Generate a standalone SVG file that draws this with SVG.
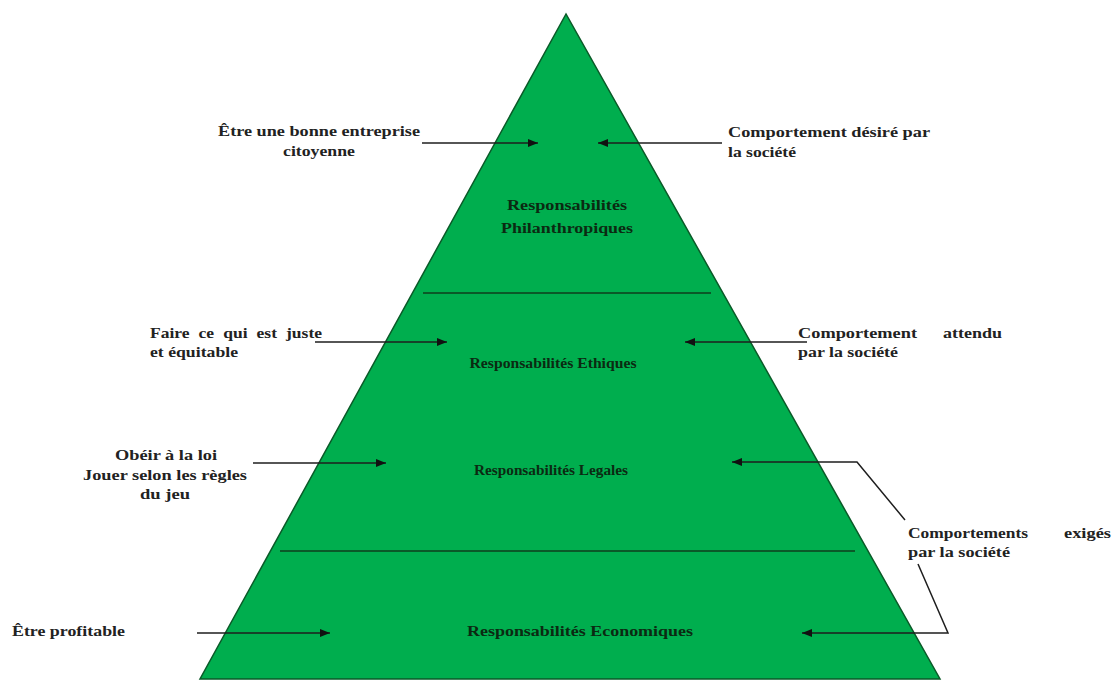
<svg xmlns="http://www.w3.org/2000/svg" width="1113" height="680" viewBox="0 0 1113 680">
<style>
.t{font-family:"Liberation Serif","Times New Roman",serif;font-weight:bold;font-size:15px;fill:#222}
.in{fill:#0b2a12}
.c{fill:none;stroke:#1e1e1e;stroke-width:1.5}
.div{stroke:#0a5a28;stroke-width:2}
</style>
<defs>
<marker id="ah" viewBox="0 0 10 8" refX="10" refY="4" markerWidth="10" markerHeight="8" markerUnits="userSpaceOnUse" orient="auto">
<path d="M0,0 L10,4 L0,8 z" fill="#111"/>
</marker>
</defs>
<rect width="1113" height="680" fill="#fff"/>
<g id="pyramid">
<polygon points="566,14 200,679 940,679" fill="#00AE4E" stroke="#0a5a28" stroke-width="1.5"/>
<line class="div" x1="423" y1="293" x2="711" y2="293"/>
<line class="div" x1="280" y1="551" x2="855" y2="551"/>
</g>
<g id="philanthropiques">
<text class="t in" x="567" y="210" text-anchor="middle" textLength="120" lengthAdjust="spacingAndGlyphs">Responsabilités</text>
<text class="t in" x="567" y="233" text-anchor="middle" textLength="132" lengthAdjust="spacingAndGlyphs">Philanthropiques</text>
</g>
<g id="ethiques">
<text class="t in" x="553" y="368" text-anchor="middle" textLength="167" lengthAdjust="spacingAndGlyphs">Responsabilités Ethiques</text>
</g>
<g id="legales">
<text class="t in" x="551" y="475" text-anchor="middle" textLength="154" lengthAdjust="spacingAndGlyphs">Responsabilités Legales</text>
</g>
<g id="economiques">
<text class="t in" x="580" y="636" text-anchor="middle" textLength="226" lengthAdjust="spacingAndGlyphs">Responsabilités Economiques</text>
</g>
<g id="citoyenne">
<text class="t" x="319" y="136" text-anchor="middle" textLength="202" lengthAdjust="spacingAndGlyphs">Être une bonne entreprise</text>
<text class="t" x="319" y="156" text-anchor="middle" textLength="72" lengthAdjust="spacingAndGlyphs">citoyenne</text>
</g>
<g id="desire">
<text class="t" x="728" y="137" textLength="202" lengthAdjust="spacingAndGlyphs">Comportement désiré par</text>
<text class="t" x="728" y="157" textLength="68" lengthAdjust="spacingAndGlyphs">la société</text>
</g>
<g id="juste">
<text class="t" x="150" y="338" word-spacing="4" textLength="172" lengthAdjust="spacingAndGlyphs">Faire ce qui est juste</text>
<text class="t" x="150" y="357" textLength="88" lengthAdjust="spacingAndGlyphs">et équitable</text>
</g>
<g id="attendu">
<text class="t" y="338"><tspan x="798" textLength="119" lengthAdjust="spacingAndGlyphs">Comportement</tspan><tspan x="943" textLength="59" lengthAdjust="spacingAndGlyphs">attendu</tspan></text>
<text class="t" x="798" y="357" textLength="100" lengthAdjust="spacingAndGlyphs">par la société</text>
</g>
<g id="loi">
<text class="t" x="166" y="460" text-anchor="middle" textLength="102" lengthAdjust="spacingAndGlyphs">Obéir à la loi</text>
<text class="t" x="165" y="480" text-anchor="middle" textLength="164" lengthAdjust="spacingAndGlyphs">Jouer selon les règles</text>
<text class="t" x="165" y="499" text-anchor="middle" textLength="50" lengthAdjust="spacingAndGlyphs">du jeu</text>
</g>
<g id="exiges">
<text class="t" y="538"><tspan x="908" textLength="120" lengthAdjust="spacingAndGlyphs">Comportements</tspan><tspan x="1064" textLength="47" lengthAdjust="spacingAndGlyphs">exigés</tspan></text>
<text class="t" x="908" y="557" textLength="102" lengthAdjust="spacingAndGlyphs">par la société</text>
</g>
<g id="profitable">
<text class="t" x="12" y="636" textLength="113" lengthAdjust="spacingAndGlyphs">Être profitable</text>
</g>
<g id="connectors">
<line class="c" x1="422" y1="143" x2="538" y2="143" marker-end="url(#ah)"/>
<line class="c" x1="722" y1="143" x2="598" y2="143" marker-end="url(#ah)"/>
<line class="c" x1="315" y1="342" x2="447" y2="342" marker-end="url(#ah)"/>
<line class="c" x1="807" y1="342" x2="685" y2="342" marker-end="url(#ah)"/>
<line class="c" x1="253" y1="463" x2="386" y2="463" marker-end="url(#ah)"/>
<polyline class="c" points="905,520 857,462 732,462" marker-end="url(#ah)"/>
<polyline class="c" points="918,564 948,633 802,633" marker-end="url(#ah)"/>
<line class="c" x1="197" y1="633" x2="330" y2="633" marker-end="url(#ah)"/>
</g>
</svg>
